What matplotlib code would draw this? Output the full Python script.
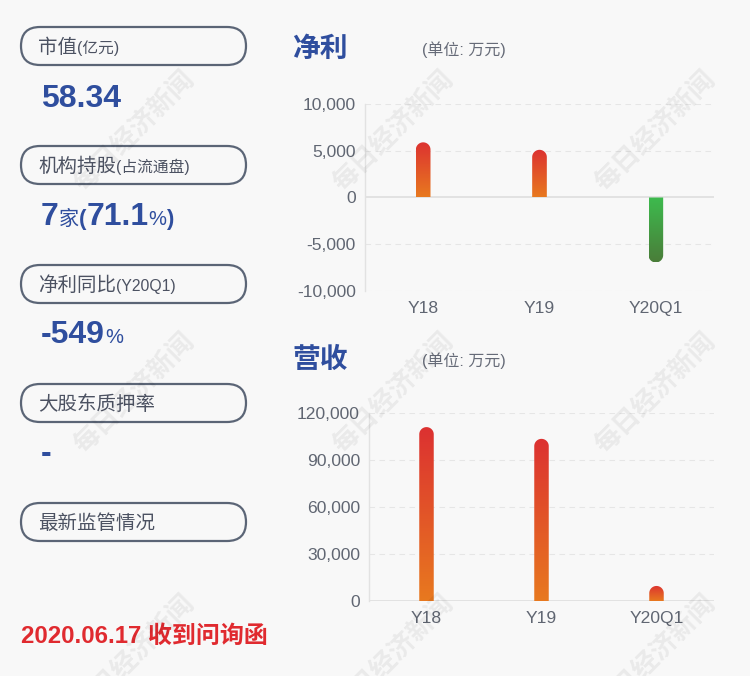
import numpy as np
import matplotlib
matplotlib.use("Agg")
import matplotlib.pyplot as plt
from matplotlib.patches import FancyBboxPatch, PathPatch
from matplotlib.path import Path
from matplotlib.colors import LinearSegmentedColormap
from matplotlib.ticker import FuncFormatter

plt.rcParams['font.family'] = ['Liberation Sans', 'Noto Sans CJK SC', 'DejaVu Sans']

# ---------------- data ----------------
categories = ["Y18", "Y19", "Y20Q1"]
net_profit = [5900, 5100, -6950]          # 万元
revenue = [111000, 103500, 9600]          # 万元
net_ticks = [-10000, -5000, 0, 5000, 10000]
rev_ticks = [0, 30000, 60000, 90000, 120000]

box_labels = [("市值", "(亿元)"), ("机构持股", "(占流通盘)"), ("净利同比", "(Y20Q1)"),
              ("大股东质押率", ""), ("最新监管情况", "")]
market_cap = "58.34"
inst_count = "7"
inst_pct = "71.1"
yoy = "-549"
pledge = "-"
notice = "2020.06.17 收到问询函"

BG = "#f8f8f8"
BLUE = "#2f4e9e"
LABEL = "#4c5262"
BORDER = "#5b6576"
TICK = "#606672"
RED = "#e02a2f"

W, H = 750, 676
fig = plt.figure(figsize=(W / 100, H / 100), dpi=100, facecolor=BG)

# overlay axes in pixel coordinates
ov = fig.add_axes([0, 0, 1, 1], zorder=5)
ov.set_xlim(0, W)
ov.set_ylim(H, 0)
ov.axis("off")
ov.patch.set_alpha(0)


def px_ax(left, top, right, bottom):
    return fig.add_axes([left / W, 1 - bottom / H, (right - left) / W, (bottom - top) / H])


def seq_text(x, y, parts):
    fig.canvas.draw()
    r = fig.canvas.get_renderer()
    for s, size, weight, color in parts:
        t = ov.text(x, y, s, fontsize=size, fontweight=weight, color=color,
                    ha="left", va="baseline")
        bb = t.get_window_extent(renderer=r)
        x = ov.transData.inverted().transform((bb.x1, bb.y0))[0]


# ---------------- left panel ----------------
box_tops = [27, 146, 265, 384, 503]
for (main, sub), top in zip(box_labels, box_tops):
    p = FancyBboxPatch((21, top), 225, 38, boxstyle="round,pad=0,rounding_size=19",
                       facecolor="none", edgecolor=BORDER, linewidth=1.6)
    ov.add_patch(p)
    parts = [(main, 14, "normal", LABEL)]
    if sub:
        parts.append((sub, 11.3, "normal", LABEL))
    seq_text(38, top + 26, parts)

seq_text(41, 107, [(market_cap, 23, "bold", BLUE)])
seq_text(41, 225, [(inst_count, 23, "bold", BLUE), ("家", 14.5, "normal", BLUE),
                   ("(", 16, "bold", BLUE), (inst_pct, 23, "bold", BLUE),
                   ("%", 14.5, "normal", BLUE), (")", 16, "bold", BLUE)])
seq_text(41, 343, [(yoy, 23, "bold", BLUE), ("%", 14.5, "normal", BLUE)])
seq_text(41, 462, [(pledge, 23, "bold", BLUE)])
seq_text(21, 643, [(notice, 17.3, "bold", RED)])

# ---------------- charts ----------------
red_cmap = LinearSegmentedColormap.from_list("ro", ["#e8791f", "#dc3131"])
green_cmap = LinearSegmentedColormap.from_list("gr", ["#3dbb4e", "#4a7d39"])


def rounded_bar(ax, x, v, width, cmap):
    pos = ax.get_position()
    wpx, hpx = pos.width * W, pos.height * H
    x0, x1 = ax.get_xlim()
    y0, y1 = ax.get_ylim()
    ux, uy = (x1 - x0) / wpx, (y1 - y0) / hpx
    hw = width / 2
    ry = hw / ux * uy
    sgn = 1 if v >= 0 else -1
    end = v - sgn * ry
    t = np.linspace(0, np.pi, 40)
    verts = [(x - hw, 0), (x + hw, 0), (x + hw, end)]
    verts += [(x + hw * np.cos(a), end + sgn * ry * np.sin(a)) for a in t]
    verts += [(x - hw, 0)]
    codes = [Path.MOVETO] + [Path.LINETO] * (len(verts) - 2) + [Path.CLOSEPOLY]
    patch = PathPatch(Path(verts, codes), facecolor="none", edgecolor="none",
                      transform=ax.transData)
    ax.add_patch(patch)
    grad = np.linspace(0, 1, 256).reshape(-1, 1)
    im = ax.imshow(grad, extent=[x - hw, x + hw, 0, v], origin="lower",
                   cmap=cmap, aspect="auto", zorder=3, interpolation="bilinear")
    im.set_clip_path(patch)


def style_axes(ax, ticks):
    ax.set_facecolor("none")
    for s in ["top", "right", "bottom"]:
        ax.spines[s].set_visible(False)
    ax.spines["left"].set_color("#e2e2e2")
    ax.spines["left"].set_linewidth(1)
    ax.set_yticks(ticks)
    ax.yaxis.set_major_formatter(FuncFormatter(lambda v, p: f"{int(v):,}"))
    ax.set_xticks(range(len(categories)))
    ax.set_xticklabels(categories)
    ax.tick_params(axis="both", length=0, labelsize=12.6, colors=TICK)
    ax.tick_params(axis="y", pad=6.5)
    ax.tick_params(axis="x", pad=7)
    for tv in ticks:
        if tv == 0:
            ax.axhline(0, color="#dedede", linewidth=1.2, zorder=1)
        else:
            ax.axhline(tv, color="#e6e6e6", linewidth=0.8, linestyle=(0, (5, 4)), zorder=1)


def draw_chart(ax, values, ticks):
    ax.set_xlim(-0.5, len(categories) - 0.5)
    ax.set_ylim(ticks[0], ticks[-1])
    style_axes(ax, ticks)
    for i, v in enumerate(values):
        rounded_bar(ax, i, v, 0.126, red_cmap if v >= 0 else green_cmap)
    ax.set_xlim(-0.5, len(categories) - 0.5)
    ax.set_ylim(ticks[0], ticks[-1])


ax1 = px_ax(365, 104, 714, 291)
draw_chart(ax1, net_profit, net_ticks)
ax2 = px_ax(369, 413, 714, 601)
draw_chart(ax2, revenue, rev_ticks)

for title, y in [("净利", 50), ("营收", 361)]:
    ov.text(292, y, title, fontsize=20, fontweight="bold", color=BLUE, ha="left", va="center")
    ov.text(422, y, "(单位: 万元)", fontsize=11.5, color="#666b78", ha="left", va="center")

# watermarks (the bottom row is cut by the lower edge, as in the reference)
for wx in [134, 393, 655]:
    for wy in [131, 393, 655]:
        ov.text(wx, wy, "每日经济新闻", fontsize=19, fontweight="bold", color="#000000",
                alpha=0.06, rotation=45, ha="center", va="center", zorder=10)

fig.savefig("out.png", dpi=100, facecolor=BG)
